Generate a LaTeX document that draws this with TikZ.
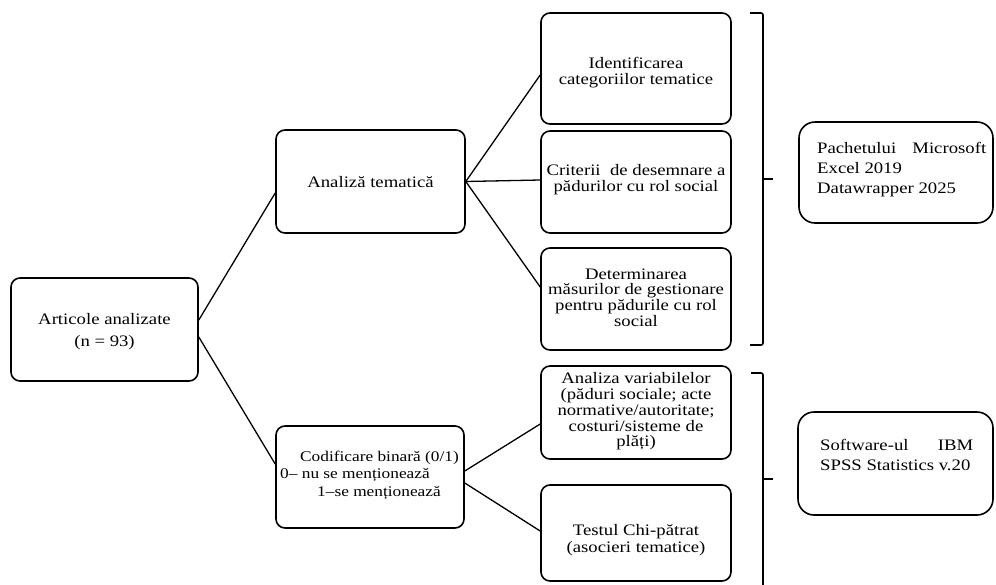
\documentclass[tikz,border=0pt]{standalone}
\usepackage{fontspec}
\setmainfont{Liberation Serif}[FakeStretch=1.17]
\begin{document}
\begin{tikzpicture}[x=1pt,y=-1pt,
  box/.style={draw, line width=1.6pt, rounded corners=9pt, inner sep=0pt, minimum width=190pt},
  bigbox/.style={draw, line width=1.6pt, rounded corners=16pt, inner sep=0pt},
  txt/.style={inner sep=0pt, align=center, font=\fontsize{16}{15.7}\selectfont},
  codtxt/.style={inner sep=0pt, font=\fontsize{14.8}{17}\selectfont},
  conn/.style={line width=1.3pt},
  brk/.style={line width=1.6pt, rounded corners=2pt}]
\useasboundingbox (0,0) rectangle (996,584);
% boxes
\node[box, minimum width=187pt, minimum height=103pt] (art) at (104.5,329.5) {};
\node[box, minimum width=189pt, minimum height=103pt] (ana) at (370.5,181.5) {};
\node[box, minimum width=188pt, minimum height=102pt] (cod) at (370,477) {};
\node[box, minimum height=111pt] (idf) at (636,68.5) {};
\node[box, minimum height=102pt] (cri) at (636,182) {};
\node[box, minimum height=102pt] (det) at (636,299) {};
\node[box, minimum height=93pt] (var) at (636,412.5) {};
\node[box, minimum height=96pt] (tst) at (636,533) {};
\node[bigbox, minimum width=194pt, minimum height=101pt] (pac) at (896,172.5) {};
\node[bigbox, minimum width=195pt, minimum height=103pt] (sps) at (895.5,463.5) {};
% texts
\node[txt, font=\fontsize{16}{22}\selectfont] (tart) at (104.5,331.5) {Articole analizate\\(n = 93)};
\node[txt, anchor=base] (tana) at (370.5,187) {Analiză tematică};
\node[codtxt, anchor=base east] (tcod1) at (459,461) {Codificare binară (0/1)};
\node[codtxt, anchor=base west] (tcod2) at (280,478) {0– nu se menționează};
\node[codtxt, anchor=base west] (tcod3) at (317,496) {1–se menționează};
\node[txt] (tidf) at (636,72.5) {Identificarea\\categoriilor tematice};
\node[txt] (tcri) at (636,179.5) {Criterii \ de desemnare a\\pădurilor cu rol social};
\node[txt] (tdet) at (636,297.5) {Determinarea\\măsurilor de gestionare\\pentru pădurile cu rol\\social};
\node[txt] (tvar) at (636,411.5) {Analiza variabilelor\\(păduri sociale; acte\\normative/autoritate;\\costuri/sisteme de\\plăți)};
\node[txt, font=\fontsize{16}{16.7}\selectfont] (ttst) at (636,540) {Testul Chi-pătrat\\(asocieri tematice)};
\node[txt, align=left, anchor=west, font=\fontsize{16}{20}\selectfont] (tpac) at (817,169.5)
  {\hbox to 169pt{Pachetului\hfill Microsoft}\\Excel 2019\\Datawrapper 2025};
\node[txt, align=left, anchor=west, font=\fontsize{16}{20}\selectfont] (tsps) at (820,455)
  {\hbox to 153pt{Software-ul\hfill IBM}\\SPSS Statistics v.20};
% connectors
\draw[conn] ([yshift=9.5pt]art.east) -- ([yshift=-11.5pt]ana.west);
\draw[conn] ([yshift=-7.5pt]art.east) -- ([yshift=13pt]cod.west);
\draw[conn] (ana.east) -- ([yshift=-6.5pt]idf.west);
\draw[conn] (ana.east) -- ([yshift=2pt]cri.west);
\draw[conn] (ana.east) -- ([yshift=12pt]det.west);
\draw[conn] ([yshift=6pt]cod.east) -- ([yshift=-11.5pt]var.west);
\draw[conn] ([yshift=-6pt]cod.east) -- ([yshift=2pt]tst.west);
% brackets
\coordinate (b1t) at (750,13);
\coordinate (b1b) at (750,345);
\coordinate (b1m) at (773,179);
\draw[brk] (b1t) -- (763,13) -- (763,345) -- (b1b);
\draw[brk] (763,179) -- (b1m);
\coordinate (b2t) at (751,373);
\coordinate (b2b) at (763,590);
\coordinate (b2m) at (773,479);
\draw[brk] (b2t) -- (763,373) -- (b2b);
\draw[brk] (763,479) -- (b2m);
\end{tikzpicture}
\end{document}
